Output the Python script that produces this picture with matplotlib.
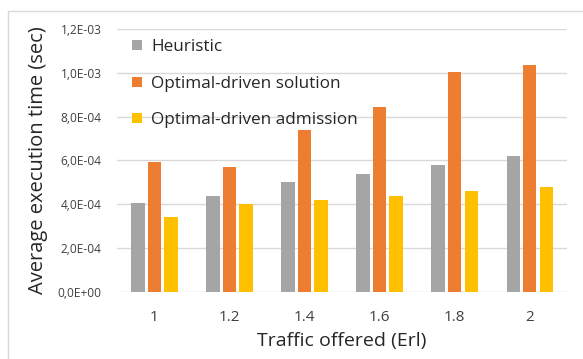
import numpy as np
import matplotlib.pyplot as plt
from matplotlib.patches import Rectangle

# Traffic load points and mean execution time per method (seconds)
traffic = ["1", "1.2", "1.4", "1.6", "1.8", "2"]
heuristic = [4.03e-4, 4.38e-4, 5.00e-4, 5.37e-4, 5.77e-4, 6.18e-4]
opt_solution = [5.91e-4, 5.69e-4, 7.38e-4, 8.42e-4, 1.005e-3, 1.035e-3]
opt_admission = [3.42e-4, 4.00e-4, 4.18e-4, 4.38e-4, 4.61e-4, 4.79e-4]

series_names = ["Heuristic", "Optimal-driven solution", "Optimal-driven admission"]
colors = ["#A5A5A5", "#ED7D31", "#FFC000"]

plt.rcParams['font.family'] = ['Open Sans', 'DejaVu Sans']

fig = plt.figure(figsize=(5.83, 3.59), dpi=100)
ax = fig.add_axes([0.2007, 0.188, 0.772, 0.731])

# light frame around the chart area
fig.patches.append(Rectangle((8 / 583, -0.1), 1.2, (359 - 11) / 359 + 0.1,
                             transform=fig.transFigure, fill=False,
                             edgecolor="#D9D9D9", linewidth=1))

x = np.arange(len(traffic))
width = 0.175
step = 0.22
for i, (vals, name, c) in enumerate(zip([heuristic, opt_solution, opt_admission],
                                         series_names, colors)):
    ax.bar(x + (i - 1) * step, vals, width=width, color=c, label=name, zorder=3)

ax.set_xlim(-0.5, len(traffic) - 0.5)
ax.set_ylim(0, 1.2e-3)
ax.set_yticks(np.arange(0, 1.21e-3, 2e-4))
ax.set_yticklabels(["0,0E+00", "2,0E-04", "4,0E-04", "6,0E-04",
                    "8,0E-04", "1,0E-03", "1,2E-03"])
ax.set_xticks(x)
ax.set_xticklabels(traffic)

ax.grid(axis="y", color="#D9D9D9", linewidth=1, zorder=0)
for s in ax.spines.values():
    s.set_visible(False)
ax.tick_params(axis="y", length=0, pad=11, labelsize=8.6, labelcolor="#404040")
ax.tick_params(axis="x", length=0, pad=13, labelsize=11, labelcolor="#404040")

ax.set_xlabel("Traffic offered (Erl)", fontsize=14, color="#262626", labelpad=5)
ax.set_ylabel("Average execution time (sec)", fontsize=14.5, color="#262626", labelpad=7)

leg = ax.legend(loc="upper left", bbox_to_anchor=(0.0, 1.02), frameon=False,
                fontsize=12.3, handlelength=0.55, handleheight=0.55,
                handletextpad=0.55, labelspacing=1.2, labelcolor="#262626")

fig.savefig("out.png", dpi=100)
